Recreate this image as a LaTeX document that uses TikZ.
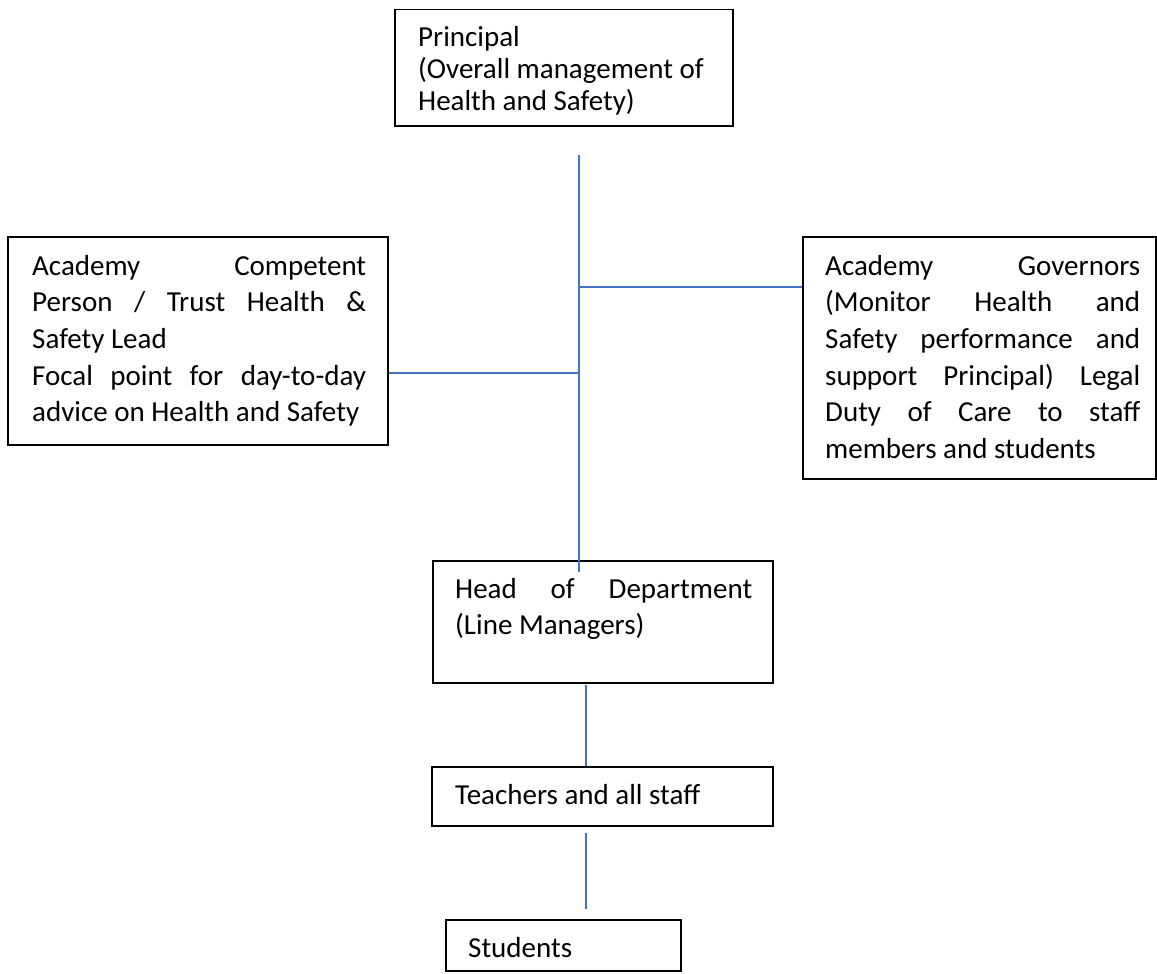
\documentclass[tikz,border=0pt]{standalone}
\usepackage{fontspec}
\setmainfont{Carlito}
\definecolor{conn}{RGB}{68,114,196}
\begin{document}
\begin{tikzpicture}[x=1pt,y=-1pt,
  box/.style={draw=black,line width=1.5pt,inner sep=0pt,anchor=north west},
  txt/.style={inner sep=0pt,anchor=base west,font=\fontsize{29}{36.7}\selectfont},
  link/.style={draw=conn,line width=1.1pt}]
\useasboundingbox (0,0) rectangle (1157,974);
% boxes
\node[box,minimum width=338pt,minimum height=116pt] (principal) at (394,9) {};
\node[box,minimum width=380pt,minimum height=208pt] (acp) at (7,236) {};
\node[box,minimum width=353pt,minimum height=242pt] (gov) at (802,236) {};
\node[box,minimum width=340pt,minimum height=122pt] (hod) at (432,560) {};
\node[box,minimum width=341pt,minimum height=59pt] (staff) at (431,766) {};
\node[box,minimum width=235pt,minimum height=51pt] (students) at (445,919) {};
% texts
\node[txt] (principal-t) at (418,47) {\parbox[t]{320pt}{\fontsize{29}{32}\selectfont
  Principal\\(Overall management of\\Health and Safety)}};
\node[txt] (acp-t) at (32,275) {\parbox[t]{334pt}{\fontsize{29}{36.7}\selectfont
  \makebox[\linewidth][s]{Academy Competent}\\
  \makebox[\linewidth][s]{Person / Trust Health \&}\\
  Safety Lead\\
  \makebox[\linewidth][s]{Focal point for day-to-day}\\
  advice on Health and Safety}};
\node[txt] (gov-t) at (825,275) {\parbox[t]{315pt}{\fontsize{29}{36.7}\selectfont
  \makebox[\linewidth][s]{Academy Governors}\\
  \makebox[\linewidth][s]{(Monitor Health and}\\
  \makebox[\linewidth][s]{Safety performance and}\\
  \makebox[\linewidth][s]{support Principal) Legal}\\
  \makebox[\linewidth][s]{Duty of Care to staff}\\
  members and students}};
\node[txt] (hod-t) at (455,598) {\parbox[t]{297pt}{\fontsize{29}{36.7}\selectfont
  \makebox[\linewidth][s]{Head of Department}\\
  (Line Managers)}};
\node[txt] (staff-t) at (455,804) {Teachers and all staff};
\node[txt] (students-t) at (468,957) {Students};
% connector points
\coordinate (pbot) at (579,155);
\coordinate (jgov) at (579,287);
\coordinate (jacp) at (579,373);
\coordinate (htop) at (579,572);
\coordinate (hbot) at (586,685);
\coordinate (sbot) at (586,833);
\coordinate (stop) at (586,909);
% connectors
\draw[link] (pbot) -- (htop);
\draw[link] (jgov) -- (gov.west |- jgov);
\draw[link] (acp.east |- jacp) -- (jacp);
\draw[link] (hbot) -- (staff.north -| hbot);
\draw[link] (sbot) -- (stop);
\end{tikzpicture}
\end{document}
